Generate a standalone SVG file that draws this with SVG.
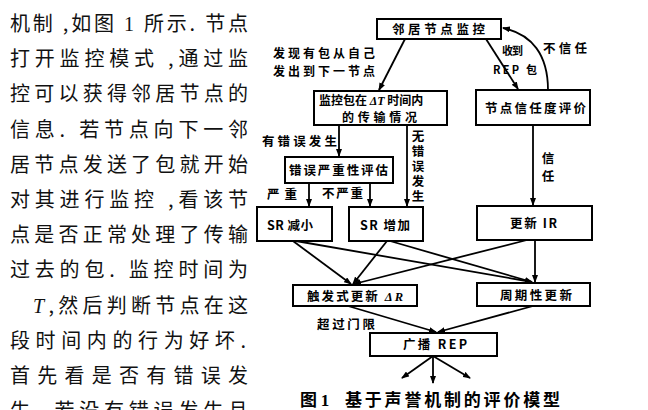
<svg xmlns="http://www.w3.org/2000/svg" width="648" height="410" viewBox="0 0 648 410">
<style>
.body{font-family:"Noto Sans CJK SC","Noto Sans",sans-serif;font-size:20px;fill:#111}
.ser{font-family:"Liberation Serif",serif}
.b{fill:#fff;stroke:#000;stroke-width:2}
.t{font-family:"Noto Sans CJK SC",sans-serif;font-weight:700;font-size:12.5px;fill:#000}
.t2{font-family:"Noto Sans CJK SC",sans-serif;font-weight:700;font-size:12px;fill:#000}
.ts{font-family:"Noto Sans CJK SC",sans-serif;font-weight:700;font-size:11px;fill:#000}
.v{writing-mode:vertical-rl}
.it{font-family:"Liberation Serif",serif;font-style:italic;font-weight:700}
.cap{font-family:"Noto Sans CJK SC",sans-serif;font-weight:700;font-size:17px;fill:#000}
.c line,.c path{stroke:#000;stroke-width:1.8;fill:none}
</style>
<defs>
<marker id="ah" markerWidth="8" markerHeight="6" refX="7" refY="3" orient="auto" markerUnits="userSpaceOnUse">
<path d="M0,0 L8,3 L0,6 Z" fill="#000"/>
</marker>
</defs>
<rect width="648" height="410" fill="#fff"/>
<g id="body-text">
<text class="body" x="10" y="31" textLength="238" lengthAdjust="spacing">机制 ,如图 <tspan class="ser">1</tspan> 所示. 节点</text>
<text class="body" x="10" y="66" textLength="238" lengthAdjust="spacing">打开监控模式 ,通过监</text>
<text class="body" x="10" y="101" textLength="238" lengthAdjust="spacing">控可以获得邻居节点的</text>
<text class="body" x="10" y="137" textLength="238" lengthAdjust="spacing">信息. 若节点向下一邻</text>
<text class="body" x="10" y="172" textLength="238" lengthAdjust="spacing">居节点发送了包就开始</text>
<text class="body" x="10" y="207" textLength="238" lengthAdjust="spacing">对其进行监控 ,看该节</text>
<text class="body" x="10" y="242" textLength="238" lengthAdjust="spacing">点是否正常处理了传输</text>
<text class="body" x="10" y="277" textLength="238" lengthAdjust="spacing">过去的包. 监控时间为</text>
<text class="body" x="33" y="313" textLength="215" lengthAdjust="spacing"><tspan class="ser" font-style="italic">T</tspan>,然后判断节点在这</text>
<text class="body" x="10" y="348" textLength="236" lengthAdjust="spacing">段时间内的行为好坏.</text>
<text class="body" x="10" y="383" textLength="238" lengthAdjust="spacing">首先看是否有错误发</text>
<text class="body" x="10" y="418" textLength="238" lengthAdjust="spacing">生. 若没有错误发生且</text>
</g>
<g id="connectors" class="c">
<line x1="405" y1="39" x2="379" y2="90" marker-end="url(#ah)"/>
<line x1="486" y1="39" x2="518" y2="89" marker-end="url(#ah)"/>
<path d="M548,90 C548,55 532,34 503,28" marker-end="url(#ah)"/>
<line x1="339" y1="125" x2="339" y2="156" marker-end="url(#ah)"/>
<line x1="407" y1="125" x2="407" y2="206" marker-end="url(#ah)"/>
<line x1="309" y1="183" x2="309" y2="206" marker-end="url(#ah)"/>
<line x1="370" y1="183" x2="370" y2="206" marker-end="url(#ah)"/>
<line x1="533" y1="125" x2="533" y2="205" marker-end="url(#ah)"/>
<line x1="293" y1="241" x2="351" y2="284" marker-end="url(#ah)"/>
<line x1="296" y1="241" x2="532" y2="282" marker-end="url(#ah)"/>
<line x1="387" y1="241" x2="353" y2="284" marker-end="url(#ah)"/>
<line x1="390" y1="241" x2="532" y2="282" marker-end="url(#ah)"/>
<line x1="527" y1="240" x2="354" y2="284" marker-end="url(#ah)"/>
<line x1="535" y1="240" x2="535" y2="282" marker-end="url(#ah)"/>
<line x1="348" y1="306" x2="436" y2="332" marker-end="url(#ah)"/>
<line x1="533" y1="306" x2="438" y2="332" marker-end="url(#ah)"/>
<line x1="433" y1="356" x2="402" y2="378" marker-end="url(#ah)"/>
<line x1="433" y1="356" x2="433" y2="383" marker-end="url(#ah)"/>
<line x1="433" y1="356" x2="470" y2="378" marker-end="url(#ah)"/>
</g>
<g id="edge-labels">
<text class="t2" x="273" y="58" textLength="102" lengthAdjust="spacing">发现有包从自己</text>
<text class="t2" x="273" y="76" textLength="102" lengthAdjust="spacing">发出到下一节点</text>
<text class="ts" x="502" y="55" textLength="21" lengthAdjust="spacing">收到</text>
<text class="ts" x="493" y="74" textLength="44" lengthAdjust="spacing">REP 包</text>
<text class="t" x="543" y="53" textLength="44" lengthAdjust="spacing">不信任</text>
<text class="t" x="262" y="146" textLength="75" lengthAdjust="spacing">有错误发生</text>
<text class="t v" x="418" y="130" letter-spacing="2.4">无错误发生</text>
<text class="t" x="267" y="199" textLength="30" lengthAdjust="spacing">严重</text>
<text class="t" x="322" y="198" textLength="41" lengthAdjust="spacing">不严重</text>
<text class="t v" x="548" y="152" letter-spacing="5">信任</text>
<text class="t" x="317" y="329" textLength="58" lengthAdjust="spacing">超过门限</text>
</g>
<g id="n-monitor">
<rect class="b" x="377" y="19" width="124" height="20"/>
<text class="t" x="392" y="34" textLength="93" lengthAdjust="spacing">邻居节点监控</text>
</g>
<g id="n-packet">
<rect class="b" x="314" y="91" width="133" height="34"/>
<text class="t2" x="319" y="105">监控包在 <tspan class="it">ΔT</tspan> 时间内</text>
<text class="t2" x="342" y="122" textLength="75" lengthAdjust="spacing">的传输情况</text>
</g>
<g id="n-trust">
<rect class="b" x="476" y="90" width="114" height="35"/>
<text class="t" x="485" y="113" textLength="101" lengthAdjust="spacing">节点信任度评价</text>
</g>
<g id="n-severity">
<rect class="b" x="285" y="157" width="108" height="26"/>
<text class="t" x="289" y="175" textLength="99" lengthAdjust="spacing">错误严重性评估</text>
</g>
<g id="n-sr-dec">
<rect class="b" x="257" y="207" width="75" height="34"/>
<text class="t" x="267" y="230" textLength="46" lengthAdjust="spacing">SR 减小</text>
</g>
<g id="n-sr-inc">
<rect class="b" x="349" y="207" width="74" height="34"/>
<text class="t" x="360" y="230" textLength="50" lengthAdjust="spacing">SR 增加</text>
</g>
<g id="n-ir">
<rect class="b" x="477" y="206" width="115" height="34"/>
<text class="t" x="510" y="228" textLength="47" lengthAdjust="spacing">更新 IR</text>
</g>
<g id="n-trigger">
<rect class="b" x="293" y="285" width="124" height="21"/>
<text class="t" x="307" y="301" textLength="96" lengthAdjust="spacing">触发式更新 <tspan class="it">ΔR</tspan></text>
</g>
<g id="n-periodic">
<rect class="b" x="477" y="283" width="113" height="23"/>
<text class="t" x="500" y="300" textLength="72" lengthAdjust="spacing">周期性更新</text>
</g>
<g id="n-broadcast">
<rect class="b" x="370" y="333" width="127" height="23"/>
<text class="t" x="403" y="349" textLength="64" lengthAdjust="spacing">广播 REP</text>
</g>
<g id="caption">
<text class="cap" x="300" y="406">图 <tspan class="ser">1</tspan></text>
<text class="cap" x="345" y="406" textLength="215" lengthAdjust="spacing">基于声誉机制的评价模型</text>
</g>
</svg>
